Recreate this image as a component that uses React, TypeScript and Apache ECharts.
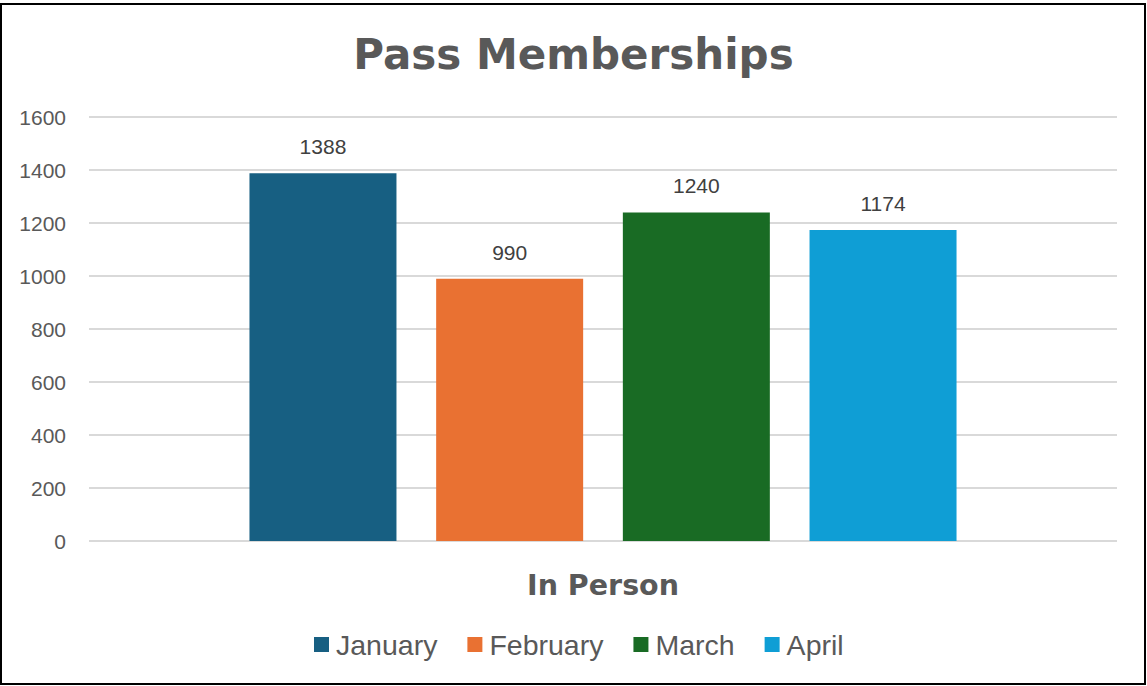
import React, { useEffect, useRef } from "react";
import * as echarts from "echarts";

const categories = ["In Person"];
const seriesNames = ["January", "February", "March", "April"];
const seriesValues = [[1388], [990], [1240], [1174]];
const seriesColors = ["#175f82", "#e97132", "#196b24", "#0f9ed5"];
const yTicks = { min: 0, max: 1600, interval: 200 };

export default function App() {
  const ref = useRef<HTMLDivElement>(null);
  useEffect(() => {
    if (!ref.current) return;
    const chart = echarts.init(ref.current, undefined, { renderer: "svg" });
    chart.setOption({
      animation: false,
      backgroundColor: "#ffffff",
      title: {
        text: "Pass Memberships",
        left: "center",
        top: 28,
        textStyle: {
          fontFamily: "DejaVu Sans",
          fontWeight: "bold",
          fontSize: 42,
          color: "#595959",
        },
      },
      grid: { left: 89, right: 30, top: 117, bottom: 145, containLabel: false },
      legend: {
        bottom: 22,
        left: 309,
        itemWidth: 15,
        itemHeight: 15,
        itemGap: 30,
        icon: "rect",
        data: seriesNames,
        textStyle: { fontFamily: "Liberation Sans", fontSize: 28.5, color: "#595959", padding: [0, 0, 0, 2] },
      },
      xAxis: {
        type: "category",
        data: categories,
        axisLine: { show: false },
        axisTick: { show: false },
        axisLabel: {
          margin: 30,
          fontFamily: "DejaVu Sans",
          fontWeight: "bold",
          fontSize: 28.5,
          color: "#595959",
        },
      },
      yAxis: {
        type: "value",
        min: yTicks.min,
        max: yTicks.max,
        interval: yTicks.interval,
        axisLine: { show: false },
        axisTick: { show: false },
        axisLabel: {
          margin: 23,
          fontFamily: "Liberation Sans",
          fontSize: 21,
          color: "#595959",
          formatter: (v: number) => String(v),
        },
        splitLine: { lineStyle: { color: "#d9d9d9", width: 2 } },
      },
      series: seriesNames.map((name, i) => ({
        name,
        type: "bar",
        data: seriesValues[i],
        barWidth: 147,
        barGap: "27%",
        itemStyle: { color: seriesColors[i] },
        label: {
          show: true,
          position: "top",
          distance: 16,
          fontFamily: "Liberation Sans",
          fontSize: 21,
          color: "#404040",
        },
      })),
      graphic: [
        {
          type: "rect",
          shape: { x: 1, y: 4, width: 1144, height: 680 },
          style: { fill: "none", stroke: "#000000", lineWidth: 2 },
          silent: true,
        },
      ],
    });
    return () => chart.dispose();
  }, []);
  return (
    <div
      ref={ref}
      style={{ position: "absolute", left: 0, top: 0, width: 1147, height: 686 }}
    />
  );
}
